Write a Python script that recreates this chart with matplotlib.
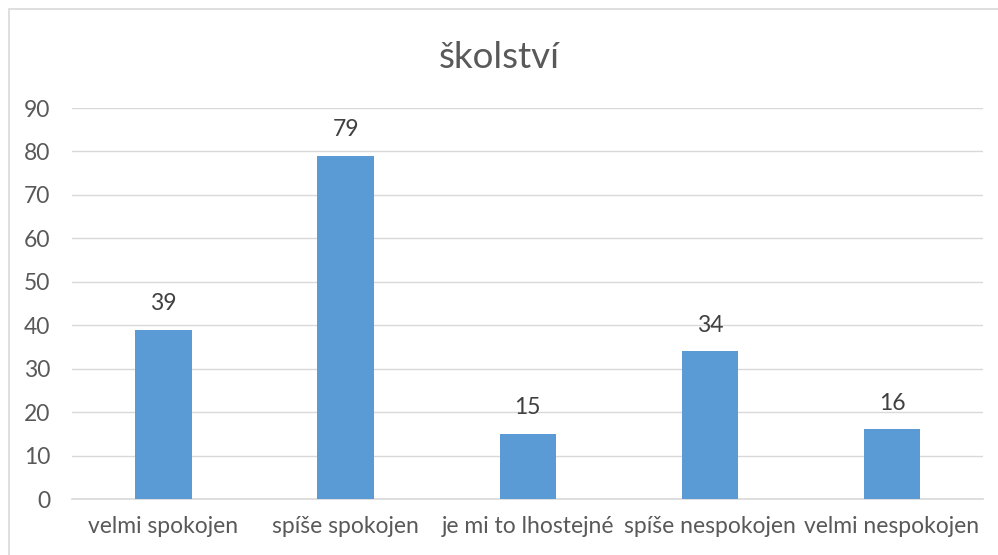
import matplotlib
matplotlib.use("Agg")
import matplotlib.pyplot as plt
from matplotlib.patches import Rectangle

categories = ["velmi spokojen", "spíše spokojen", "je mi to lhostejné",
              "spíše nespokojen", "velmi nespokojen"]
values = [39, 79, 15, 34, 16]
title = "školství"

plt.rcParams["font.family"] = ["Lato", "DejaVu Sans"]
text_col = "#595959"
grid_col = "#D9D9D9"

fig = plt.figure(figsize=(9.98, 5.55), dpi=100)
ax = fig.add_axes([0.0726, 0.1009, 0.985 - 0.0726, 0.8054 - 0.1009])

x = range(len(categories))
bars = ax.bar(x, values, width=0.31, color="#5B9BD5", zorder=3)
for b, v in zip(bars, values):
    ax.annotate(str(v), (b.get_x() + b.get_width() / 2, v),
                xytext=(0, 26), textcoords="offset pixels",
                ha="center", va="center", fontsize=16.5, color="#404040")

ax.set_xlim(-0.5, len(categories) - 0.5)
ax.set_ylim(0, 90)
ax.set_yticks(range(0, 91, 10))
ax.set_xticks(list(x))
ax.set_xticklabels(categories)
ax.yaxis.grid(True, color=grid_col, linewidth=1, zorder=0)
for s in ["top", "right", "left"]:
    ax.spines[s].set_visible(False)
ax.spines["bottom"].set_color(grid_col)
ax.spines["bottom"].set_linewidth(1.2)
ax.tick_params(axis="both", length=0, labelsize=16.5, colors=text_col)
ax.tick_params(axis="x", pad=12)
ax.tick_params(axis="y", pad=16)

fig.text(0.5, 1 - 58 / 555, title, ha="center", va="center",
         fontsize=26.5, color=text_col)

fig.patches.append(Rectangle((9 / 998, -0.1), 1.2, 1 - 9 / 555 + 0.1,
                             transform=fig.transFigure, fill=False,
                             edgecolor=grid_col, linewidth=1.2))

fig.savefig("out.png", dpi=100)
